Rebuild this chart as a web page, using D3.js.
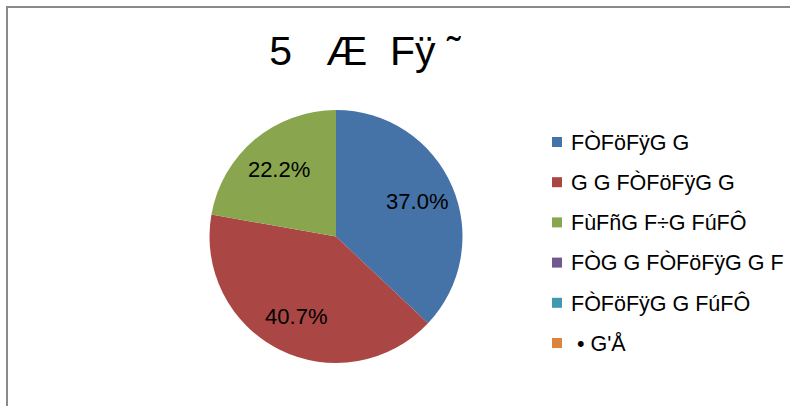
<!DOCTYPE html>
<html>
<head>
<meta charset="utf-8">
<script src="https://cdn.jsdelivr.net/npm/d3@7"></script>
<style>
  html, body { margin: 0; padding: 0; background: #fff; }
  svg text { font-family: "Liberation Sans", Arial, sans-serif; white-space: pre; }
</style>
</head>
<body>
<div id="chart"></div>
<script>
// data
const titleText = '5   Æ  Fÿ ˜';
const categories = ['FÒFöFÿG G', 'G G FÒFöFÿG G', 'FùFñG F÷G FúFÔ', 'FÒG G FÒFöFÿG G F', 'FÒFöFÿG G FúFÔ', ' • G\'Å'];
const values = [10, 11, 6, 0, 0, 0];
const colors = ['#4572A7', '#AA4643', '#89A54E', '#71588F', '#4198AF', '#DB843D'];

const width = 790, height = 406;
const cx = 336, cy = 236.5, radius = 126.5;

const svg = d3.select('#chart').append('svg')
  .attr('width', width)
  .attr('height', height);

// outer frame (runs off the canvas at right and bottom)
svg.append('rect')
  .attr('x', 7).attr('y', 7)
  .attr('width', 900).attr('height', 600)
  .attr('fill', 'none')
  .attr('stroke', '#8a8a8a')
  .attr('stroke-width', 2);

svg.append('text')
  .attr('x', 365).attr('y', 65)
  .attr('text-anchor', 'middle')
  .attr('font-size', 41)
  .text(titleText);

const total = d3.sum(values);
const pie = d3.pie().sort(null).value(d => d)(values);
const arc = d3.arc().innerRadius(0).outerRadius(radius);
const labelArc = d3.arc().innerRadius(radius * 0.7).outerRadius(radius * 0.7);

const g = svg.append('g').attr('transform', `translate(${cx},${cy})`);

g.selectAll('path')
  .data(pie)
  .join('path')
  .attr('d', arc)
  .attr('fill', (d, i) => colors[i]);

g.selectAll('text')
  .data(pie.filter(d => d.value > 0))
  .join('text')
  .attr('transform', d => `translate(${labelArc.centroid(d)})`)
  .attr('text-anchor', 'middle')
  .attr('dy', '0.36em')
  .attr('font-size', 22)
  .text(d => (d.value / total * 100).toFixed(1) + '%');

// legend
const legend = svg.append('g').attr('transform', 'translate(552,0)');
const legendY = d3.scalePoint().domain(d3.range(categories.length)).range([142, 343]);

const item = legend.selectAll('g')
  .data(categories)
  .join('g')
  .attr('transform', (d, i) => `translate(0,${legendY(i)})`);

item.append('rect')
  .attr('x', 0).attr('y', -5)
  .attr('width', 10).attr('height', 10)
  .attr('fill', (d, i) => colors[i]);

item.append('text')
  .attr('x', 19).attr('y', 0)
  .attr('dy', '0.36em')
  .attr('font-size', 21.5)
  .text(d => d);
</script>
</body>
</html>
